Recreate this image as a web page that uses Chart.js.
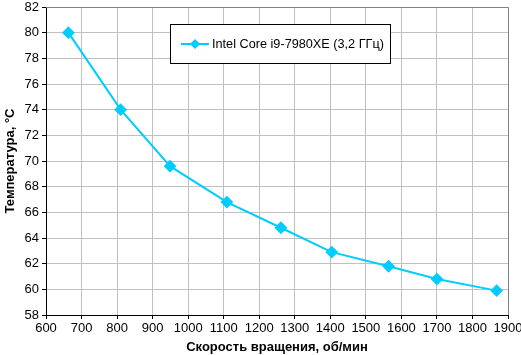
<!DOCTYPE html>
<html><head><meta charset="utf-8">
<script src="https://cdn.jsdelivr.net/npm/chart.js@4"></script>
<style>html,body{margin:0;padding:0;background:#fff}#wrap{width:521px;height:355px;position:relative}</style>
</head><body><div id="wrap"><canvas id="c" width="521" height="355"></canvas></div>
<script>
const speeds = [663, 810, 949, 1109, 1261, 1404, 1564, 1700, 1868];
const temps = [80.0, 74.0, 69.6, 66.8, 64.8, 62.9, 61.8, 60.8, 59.9];
const seriesLabel = 'Intel Core i9-7980XE (3,2 ГГц)';
const xTitle = 'Скорость вращения, об/мин';
const yTitle = 'Температура, °C';
const color = '#00CCFF';

const frame = {
  id: 'frame',
  afterDraw(chart) {
    const {ctx, chartArea: a} = chart;
    ctx.save();
    ctx.strokeStyle = '#808080'; ctx.lineWidth = 1;
    ctx.beginPath();
    ctx.moveTo(a.left, Math.round(a.top) + 0.5);
    ctx.lineTo(Math.round(a.right) + 0.5, Math.round(a.top) + 0.5);
    ctx.lineTo(Math.round(a.right) + 0.5, a.bottom);
    ctx.stroke();
    // legend
    const lx = 170.5, ly = 24.5, lw = 220, lh = 39;
    ctx.fillStyle = '#fff'; ctx.fillRect(lx, ly, lw, lh);
    ctx.strokeStyle = '#000'; ctx.strokeRect(lx, ly, lw, lh);
    const cy = 44;
    ctx.strokeStyle = color; ctx.lineWidth = 2;
    ctx.beginPath(); ctx.moveTo(181, cy); ctx.lineTo(209, cy); ctx.stroke();
    ctx.fillStyle = color;
    ctx.beginPath(); ctx.moveTo(195, cy - 5); ctx.lineTo(200, cy); ctx.lineTo(195, cy + 5); ctx.lineTo(190, cy); ctx.closePath(); ctx.fill();
    ctx.fillStyle = '#000'; ctx.font = '12.7px "Liberation Sans", Arial, sans-serif';
    ctx.textBaseline = 'middle'; ctx.textAlign = 'left';
    ctx.fillText(seriesLabel, 212, cy);
    ctx.restore();
  }
};

new Chart(document.getElementById('c'), {
  type: 'line',
  data: {
    datasets: [{
      label: seriesLabel,
      data: speeds.map((s, i) => ({x: s, y: temps[i]})),
      borderColor: color, backgroundColor: color,
      borderWidth: 2, pointStyle: 'rectRot', pointRadius: 5, pointHoverRadius: 5,
      tension: 0
    }]
  },
  options: {
    responsive: false, animation: false, devicePixelRatio: 1,
    layout: {padding: {top: 6, right: 13, left: 0, bottom: 0}},
    plugins: {legend: {display: false}, tooltip: {enabled: false}},
    scales: {
      x: {
        type: 'linear', min: 600, max: 1900,
        ticks: {stepSize: 100, color: '#000', font: {family: '"Liberation Sans", Arial', size: 13}, maxRotation: 0, padding: 2,
          callback: v => String(v)},
        grid: {color: '#c0c0c0', tickColor: '#000', tickLength: 4},
        border: {color: '#000', width: 1},
        title: {display: true, text: xTitle, color: '#000', font: {family: '"Liberation Sans", Arial', size: 13, weight: 'bold'}, padding: {top: 0, bottom: 0}},
        afterFit(s) { s.height = 40; s.paddingLeft = 0; s.paddingRight = 0; }
      },
      y: {
        min: 58, max: 82,
        ticks: {stepSize: 2, color: '#000', font: {family: '"Liberation Sans", Arial', size: 13}, padding: 3},
        grid: {color: '#c0c0c0', tickColor: '#000', tickLength: 4},
        border: {color: '#000', width: 1},
        title: {display: true, text: yTitle, color: '#000', font: {family: '"Liberation Sans", Arial', size: 13, weight: 'bold'}, padding: {top: 3, bottom: 0}},
        afterFit(s) { s.width = 46; s.paddingTop = 0; s.paddingBottom = 0; }
      }
    }
  },
  plugins: [frame]
});
</script></body></html>
